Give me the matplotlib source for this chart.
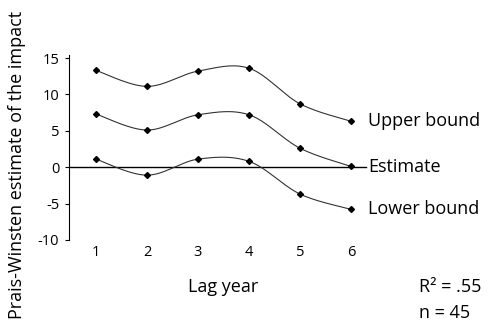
import numpy as np
import matplotlib as mpl
mpl.use('Agg')
import matplotlib.pyplot as plt

plt.rcParams['font.family'] = ['Open Sans', 'DejaVu Sans']

lag = [1, 2, 3, 4, 5, 6]
upper = [13.3, 11.1, 13.2, 13.6, 8.7, 6.3]
estimate = [7.3, 5.1, 7.2, 7.2, 2.6, 0.1]
lower = [1.1, -1.1, 1.1, 0.8, -3.7, -5.8]
series_names = ["Upper bound", "Estimate", "Lower bound"]
yticks = [-10, -5, 0, 5, 10, 15]


def smooth(x, y, n=30):
    # catmull-rom style curve like the spreadsheet "smoothed line"
    x = np.asarray(x, float)
    y = np.asarray(y, float)
    px = np.concatenate([[x[0]], x, [x[-1]]])
    py = np.concatenate([[y[0]], y, [y[-1]]])
    xs, ys = [], []
    for i in range(1, len(px) - 2):
        p0, p1, p2, p3 = [np.array([px[j], py[j]]) for j in range(i - 1, i + 3)]
        c1 = p1 + (p2 - p0) / 6
        c2 = p2 - (p3 - p1) / 6
        t = np.linspace(0, 1, n)[:, None]
        b = ((1 - t) ** 3) * p1 + 3 * ((1 - t) ** 2) * t * c1 \
            + 3 * (1 - t) * t ** 2 * c2 + t ** 3 * p2
        xs.extend(b[:, 0])
        ys.extend(b[:, 1])
    return np.array(xs), np.array(ys)


fig = plt.figure(figsize=(4.89, 3.30), dpi=100)
ax = fig.add_axes([0.141, 0.273, 0.605, 0.56])

ax.plot([0.47, 6.3], [0, 0], color="black", lw=1.0, zorder=1, clip_on=False)

for vals, name in zip([upper, estimate, lower], series_names):
    sx, sy = smooth(lag, vals)
    ax.plot(sx, sy, color="#333333", lw=0.8, zorder=2)
    ax.plot(lag, vals, linestyle="none", marker="D", ms=3, color="black", zorder=3)
    ax.text(6.33, vals[-1] if name != "Estimate" else 0, name,
            fontsize=13, va="center", ha="left")

ax.set_xlim(0.47, 6.27)
ax.set_ylim(-10, 15.4)
ax.set_yticks(yticks)
ax.set_yticklabels([str(v) if v >= 0 else "-" + str(-v) for v in yticks], fontsize=10.5)
ax.set_xticks(lag)
ax.set_xticklabels([str(v) for v in lag], fontsize=10.5)
ax.tick_params(axis="x", length=0, pad=4)
ax.tick_params(axis="y", direction="out", length=3, width=0.8, pad=4)
for s in ["top", "right", "bottom"]:
    ax.spines[s].set_visible(False)
ax.spines["left"].set_linewidth(0.8)
ax.spines["left"].set_bounds(-10, 15.4)

fig.text(0.456, 0.13, "Lag year", fontsize=13, ha="center", va="center")
fig.text(0.035, 0.5, "Prais-Winsten estimate of the impact", fontsize=13,
         rotation=90, ha="center", va="center")
fig.text(0.857, 0.13, "R² = .55", fontsize=13, ha="left", va="center")
fig.text(0.857, 0.052, "n = 45", fontsize=13, ha="left", va="center")

fig.savefig("out.png", dpi=100)
